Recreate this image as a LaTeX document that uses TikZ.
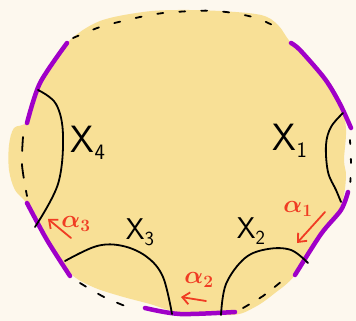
\documentclass[tikz,border=0pt]{standalone}
\usepackage{bm}
\usetikzlibrary{arrows.meta}
\definecolor{bgc}{RGB}{253,248,238}
\definecolor{blob}{RGB}{248,224,150}
\definecolor{purp}{RGB}{160,0,200}
\definecolor{redc}{RGB}{240,60,35}
\tikzset{
  bnd/.style={purp,line width=4.5pt,line cap=round},
  arcx/.style={black,line width=1.8pt,line cap=round},
  dsh/.style={black,line width=1.8pt,line cap=round,dash pattern=on 6pt off 16pt},
  redarrow/.style={redc,line width=1.8pt,line cap=round,-{Straight Barb[length=7pt,width=12pt]}},
  lbl/.style={inner sep=0pt,font=\sffamily},
  alab/.style={inner sep=0pt,text=redc}
}
\begin{document}
\begin{tikzpicture}[x=1pt,y=-1pt]
\useasboundingbox (0,0) rectangle (356,321);
\fill[bgc] (0,0) rectangle (356,321);
% blob
\fill[blob] plot[smooth cycle,tension=0.55] coordinates {
 (178,10) (220,11) (261,15) (278,25) (292,44) (325,77) (341,103) (346,130)
 (344,160) (346,177) (341,205) (321,233) (295,275) (275,293) (255,307)
 (232,315) (178,312) (150,304) (120,296) (93,287) (70,273) (47,240)
 (27,204) (15,190) (9,170) (9,145) (14,128) (27,121) (40,83) (52,65)
 (70,40) (100,21) (143,12)};
% dashed boundary pieces
\draw[dsh] plot[smooth,tension=0.6] coordinates {(73,38) (100,27) (123,21) (150,15) (175,12) (216,11) (256,18) (285,32)};
\draw[dsh,dash pattern=on 14pt off 13pt] plot[smooth] coordinates {(23,137) (22,165) (27,196)};
\draw[dsh,dash pattern=on 7pt off 14pt] plot[smooth] coordinates {(80,283) (104,297) (130,308)};
\draw[dsh,dash pattern=on 7pt off 12pt] plot[smooth] coordinates {(243,308) (263,296) (282,281)};
\draw[dsh,dash pattern=on 4pt off 15pt] plot[smooth] coordinates {(350,140) (351,165) (350,188)};
% purple boundary arcs
\draw[bnd] plot[smooth] coordinates {(27,123) (40,83) (67,43)};
\draw[bnd] plot[smooth] coordinates {(291,43) (300,50) (325,79) (340,104) (351,128)};
\draw[bnd] plot[smooth] coordinates {(348,192) (341,210) (321,234) (295,275)};
\draw[bnd] plot[smooth] coordinates {(145,308) (180,314) (235,312)};
\draw[bnd] plot[smooth] coordinates {(27,203) (47,240) (70,276)};
% black arcs
\draw[arcx] plot[smooth,tension=0.6] coordinates {(38,90) (56,104) (63,135) (58,184) (35,227)};
\draw[arcx] plot[smooth,tension=0.6] coordinates {(343,113) (331,127) (326,145) (328,172) (336,190) (341,202)};
\draw[arcx] plot[smooth,tension=0.6] coordinates {(65,261) (97,246) (123,246) (147,257) (163,277) (172,314)};
\draw[arcx] plot[smooth,tension=0.6] coordinates {(221,315) (226,284) (245,258) (268,249) (291,250) (308,263)};
% labels
\node[lbl] (x4) at (88,143) {\fontsize{38}{38}\selectfont X\raisebox{-7pt}{\fontsize{22}{22}\selectfont 4}};
\node[lbl] (x1) at (290,141) {\fontsize{38}{38}\selectfont X\raisebox{-7pt}{\fontsize{22}{22}\selectfont 1}};
\node[lbl] (x3) at (140,232) {\fontsize{30}{30}\selectfont X\raisebox{-6pt}{\fontsize{20}{20}\selectfont 3}};
\node[lbl] (x2) at (251,231) {\fontsize{30}{30}\selectfont X\raisebox{-6pt}{\fontsize{20}{20}\selectfont 2}};
\node[alab] (a3) at (76,224) {\fontsize{27}{27}\selectfont $\bm{\alpha}_{\bm{3}}$};
\node[alab] (a1) at (298,209) {\fontsize{27}{27}\selectfont $\bm{\alpha}_{\bm{1}}$};
\node[alab] (a2) at (199,280) {\fontsize{27}{27}\selectfont $\bm{\alpha}_{\bm{2}}$};
% arrows
\coordinate (a3s) at (71,238); \coordinate (a3e) at (48,219);
\coordinate (a1s) at (325,212); \coordinate (a1e) at (297,243);
\coordinate (a2s) at (206,301); \coordinate (a2e) at (181,297);
\draw[redarrow] (a3s) -- (a3e);
\draw[redarrow] (a1s) -- (a1e);
\draw[redarrow] (a2s) -- (a2e);
\end{tikzpicture}
\end{document}
